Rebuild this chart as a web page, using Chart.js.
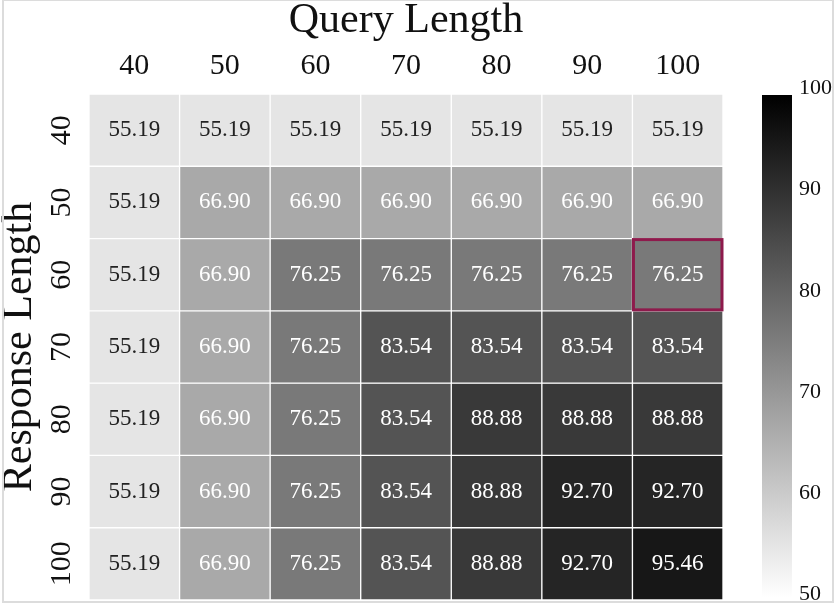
<!DOCTYPE html>
<html>
<head>
<meta charset="utf-8">
<script src="https://cdn.jsdelivr.net/npm/chart.js@4/dist/chart.umd.min.js"></script>
<style>
  html, body { margin: 0; padding: 0; background: #fff; }
  #wrap { width: 836px; height: 604px; }
</style>
</head>
<body>
<div id="wrap"><canvas id="heat"></canvas></div>
<script>
// Data
var queryLengths    = ["40", "50", "60", "70", "80", "90", "100"];
var responseLengths = ["40", "50", "60", "70", "80", "90", "100"];

var row40  = [55.19, 55.19, 55.19, 55.19, 55.19, 55.19, 55.19];
var row50  = [55.19, 66.90, 66.90, 66.90, 66.90, 66.90, 66.90];
var row60  = [55.19, 66.90, 76.25, 76.25, 76.25, 76.25, 76.25];
var row70  = [55.19, 66.90, 76.25, 83.54, 83.54, 83.54, 83.54];
var row80  = [55.19, 66.90, 76.25, 83.54, 88.88, 88.88, 88.88];
var row90  = [55.19, 66.90, 76.25, 83.54, 88.88, 92.70, 92.70];
var row100 = [55.19, 66.90, 76.25, 83.54, 88.88, 92.70, 95.46];
var rows = [row40, row50, row60, row70, row80, row90, row100];

var colorMin = 50;
var colorMax = 100;
var colorTicks = [50, 60, 70, 80, 90, 100];

// highlighted cell: response 60, query 100
var highlightRow = 2;
var highlightCol = 6;

var serif = "'Liberation Serif', 'Times New Roman', serif";

// grey_r colormap
function greyFor(v) {
  var t = (v - colorMin) / (colorMax - colorMin);
  t = Math.max(0, Math.min(1, t));
  var g = Math.round(255 * (1 - t));
  return "rgb(" + g + "," + g + "," + g + ")";
}

var datasets = [];
for (var i = 0; i < rows.length; i++) {
  var ones = [];
  var colors = [];
  for (var j = 0; j < rows[i].length; j++) {
    ones.push(1);
    colors.push(greyFor(rows[i][j]));
  }
  datasets.push({
    label: responseLengths[i],
    data: ones,
    backgroundColor: colors,
    borderColor: "#ffffff",
    borderWidth: 1,
    borderSkipped: false,
    barPercentage: 1,
    categoryPercentage: 1
  });
}

// cell values, highlight, colorbar, frame
var heatPlugin = {
  id: "heatExtras",
  afterDatasetsDraw: function (chart) {
    var ctx = chart.ctx;
    ctx.save();
    ctx.font = "23px " + serif;
    ctx.textAlign = "center";
    ctx.textBaseline = "middle";
    for (var i = 0; i < rows.length; i++) {
      var meta = chart.getDatasetMeta(i);
      for (var j = 0; j < meta.data.length; j++) {
        var el = meta.data[j];
        var v = rows[i][j];
        ctx.fillStyle = v > 60 ? "#ffffff" : "#222222";
        ctx.fillText(v.toFixed(2), el.x, (el.y + el.base) / 2);
      }
    }

    // highlight box
    var hb = chart.getDatasetMeta(highlightRow).data[highlightCol];
    var half = hb.width / 2;
    var top = Math.min(hb.y, hb.base);
    var bot = Math.max(hb.y, hb.base);
    ctx.strokeStyle = "#8e1a4c";
    ctx.lineWidth = 3;
    ctx.strokeRect(hb.x - half + 1, top + 1, hb.width - 2, bot - top - 2);

    // colorbar
    var cb = chart.scales.cb;
    var x0 = cb.left + 39;
    var yTop = cb.getPixelForValue(colorMax) + 1;
    var yBot = cb.getPixelForValue(colorMin) - 3;
    var grad = ctx.createLinearGradient(0, yTop, 0, yBot);
    grad.addColorStop(0, greyFor(colorMax));
    grad.addColorStop(1, greyFor(colorMin));
    ctx.fillStyle = grad;
    ctx.fillRect(x0, yTop, 30, yBot - yTop);

    // light frame round the picture
    ctx.strokeStyle = "#dcdcdc";
    ctx.lineWidth = 2;
    ctx.strokeRect(3, 0, chart.width - 6, chart.height - 2);
    ctx.restore();
  }
};

var chart = new Chart(document.getElementById("heat"), {
  type: "bar",
  data: {
    labels: queryLengths,
    datasets: datasets
  },
  options: {
    responsive: true,
    maintainAspectRatio: false,
    animation: false,
    layout: { padding: { top: 0, bottom: 4, left: 2, right: 0 } },
    plugins: {
      legend: { display: false },
      tooltip: { enabled: false }
    },
    scales: {
      x: {
        position: "top",
        stacked: true,
        afterFit: function (scale) {
          scale.height = 94;
          scale.paddingLeft = 0;
          scale.paddingRight = 0;
        },
        grid: { display: false },
        border: { display: false },
        ticks: {
          color: "#111",
          font: { family: serif, size: 30 },
          padding: 2
        },
        title: {
          display: true,
          text: "Query Length",
          color: "#111",
          font: { family: serif, size: 42 },
          padding: { top: -4, bottom: 0 }
        }
      },
      y: {
        stacked: true,
        reverse: true,
        min: 0,
        max: rows.length,
        afterBuildTicks: function (scale) {
          var t = [];
          for (var k = 0; k < responseLengths.length; k++) t.push({ value: k + 0.5 });
          scale.ticks = t;
        },
        afterFit: function (scale) {
          scale.width = 87;
          scale.paddingTop = 0;
          scale.paddingBottom = 0;
        },
        grid: { display: false },
        border: { display: false },
        ticks: {
          color: "#111",
          font: { family: serif, size: 30 },
          minRotation: 90,
          maxRotation: 90,
          crossAlign: "center",
          padding: -4,
          callback: function (value, index) {
            return responseLengths[index];
          }
        },
        title: {
          display: true,
          text: "Response Length",
          color: "#111",
          font: { family: serif, size: 42 },
          padding: { top: -7, bottom: 0 }
        }
      },
      cb: {
        type: "linear",
        position: "right",
        min: colorMin,
        max: colorMax,
        afterBuildTicks: function (scale) {
          scale.ticks = colorTicks.map(function (v) { return { value: v }; });
        },
        afterFit: function (scale) {
          scale.width = 113;
          scale.paddingTop = 0;
          scale.paddingBottom = 0;
        },
        grid: { display: false, drawTicks: false },
        border: { display: false },
        ticks: {
          color: "#111",
          font: { family: serif, size: 22, lineHeight: 0.5 },
          padding: 76,
          // second empty line lifts each label a little, like the reference
          callback: function (value) {
            return [String(value), ""];
          }
        }
      }
    }
  },
  plugins: [heatPlugin]
});
</script>
</body>
</html>
